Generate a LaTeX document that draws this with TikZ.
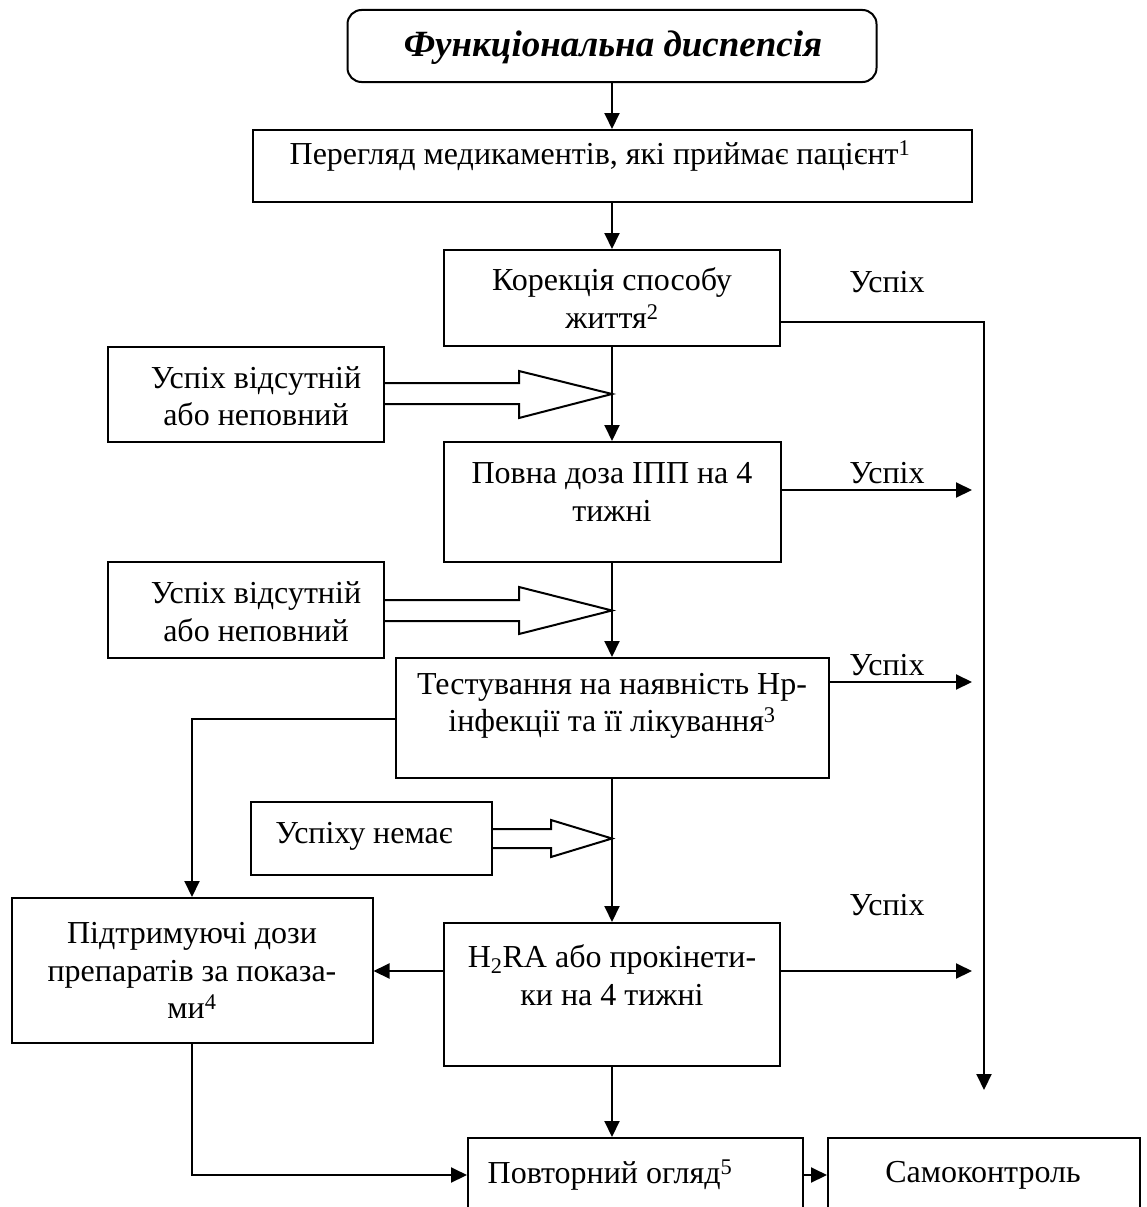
\documentclass[tikz,border=0pt]{standalone}
\usepackage{fontspec}
\setmainfont{Liberation Serif}
\usetikzlibrary{arrows.meta}
\begin{document}
\begin{tikzpicture}[x=1pt,y=-1pt,
  box/.style={draw, line width=2pt, inner sep=0pt},
  txt/.style={font=\fontsize{32}{37.5}\selectfont, align=center, inner sep=0pt},
  conn/.style={line width=2pt, -{Triangle[length=16pt,width=15pt]}},
  blk/.style={draw, fill=white, line width=2pt, line join=miter}]
\useasboundingbox (0,0) rectangle (1147,1207);
\clip (0,0) rectangle (1147,1207);

% boxes
\node[box, rounded corners=14pt, minimum width=529pt, minimum height=72pt] (title) at (612,46) {};
\node[inner sep=0pt, font=\fontsize{37}{40}\selectfont\bfseries\itshape] (tt) at (613,48) {Функціональна диспепсія};
\node[box, minimum width=719pt, minimum height=72pt] (b2) at (612,166) {};
\node[txt] (t2) at (600,156) {Перегляд медикаментів, які приймає пацієнт\textsuperscript{1}};
\node[box, txt, minimum width=336pt, minimum height=96pt] (b3) at (612,298) {Корекція способу\\життя\textsuperscript{2}};
\node[box, minimum width=337pt, minimum height=120pt] (b4) at (612,502) {};
\node[txt] (t4) at (612,492) {Повна доза ІПП на 4\\тижні};
\node[box, minimum width=433pt, minimum height=120pt] (b5) at (612,718) {};
\node[txt] (t5) at (612,706) {Тестування на наявність Hp-\\інфекції та її лікування\textsuperscript{3}};
\node[box, minimum width=336pt, minimum height=143pt] (b6) at (612,994.5) {};
\node[txt] (t6) at (612,975) {H\textsubscript{2}RA або прокінети-\\ки на 4 тижні};
\node[box, minimum width=335pt, minimum height=140pt] (b7) at (635.5,1208) {};
\node[txt] (t7) at (610,1175) {Повторний огляд\textsuperscript{5}};
\node[box, minimum width=312pt, minimum height=140pt] (b8) at (984,1208) {};
\node[txt] (t8) at (983,1175) {Самоконтроль};

\node[box, minimum width=276pt, minimum height=95pt] (la) at (246,394.5) {};
\node[txt] (tla) at (256,396) {Успіх відсутній\\або неповний};
\node[box, minimum width=276pt, minimum height=96pt] (lb) at (246,610) {};
\node[txt] (tlb) at (256,611.5) {Успіх відсутній\\або неповний};
\node[box, minimum width=241pt, minimum height=73pt] (lc) at (371.5,838.5) {};
\node[txt] (tlc) at (364,836) {Успіху немає};
\node[box, txt, minimum width=361pt, minimum height=145pt] (lm) at (192,970.5) {Підтримуючі дози\\препаратів за показа-\\ми\textsuperscript{4}};

% success labels
\node[txt] (s1) at (887,282) {Успіх};
\node[txt] (s2) at (887,473) {Успіх};
\node[txt] (s3) at (887,665) {Успіх};
\node[txt] (s4) at (887,905) {Успіх};

% block arrows
\draw[blk] (la.east |- 0,383) -- (519,383) -- (519,371) -- (612,394) -- (519,418) -- (519,404) -- (la.east |- 0,404);
\draw[blk] (lb.east |- 0,600) -- (519,600) -- (519,587) -- (612,610.5) -- (519,634) -- (519,621) -- (lb.east |- 0,621);
\draw[blk] (lc.east |- 0,829) -- (551,829) -- (551,820) -- (612,838.5) -- (551,857) -- (551,848) -- (lc.east |- 0,848);

% connectors
\coordinate (r1) at (984,322);
\coordinate (r2) at (984,1090);
\coordinate (e4) at (972,490);
\coordinate (e5) at (972,682);
\coordinate (w5) at (192,719);
\coordinate (e6) at (972,971);
\coordinate (bl) at (192,1175);

\draw[conn] (title) -- (b2);
\draw[conn] (b2) -- (b3);
\draw[conn] (b3.east |- r1) -- (r1) -- (r2);
\draw[conn] (b3) -- (b4);
\draw[conn] (b4.east |- e4) -- (e4);
\draw[conn] (b4) -- (b5);
\draw[conn] (b5.east |- e5) -- (e5);
\draw[conn] (b5.west |- w5) -- (w5) -- (w5 |- lm.north);
\draw[conn] (b5) -- (b6);
\draw[conn] (b6.east |- e6) -- (e6);
\draw[conn] (b6.west |- e6) -- (lm.east |- e6);
\draw[conn] (b6.south) -- (b6.south |- b7.north);
\draw[conn] (lm.south) -- (lm.south |- bl) -- (b7.west |- bl);
\draw[conn] (b7.east |- bl) -- (b8.west |- bl);
\end{tikzpicture}
\end{document}
